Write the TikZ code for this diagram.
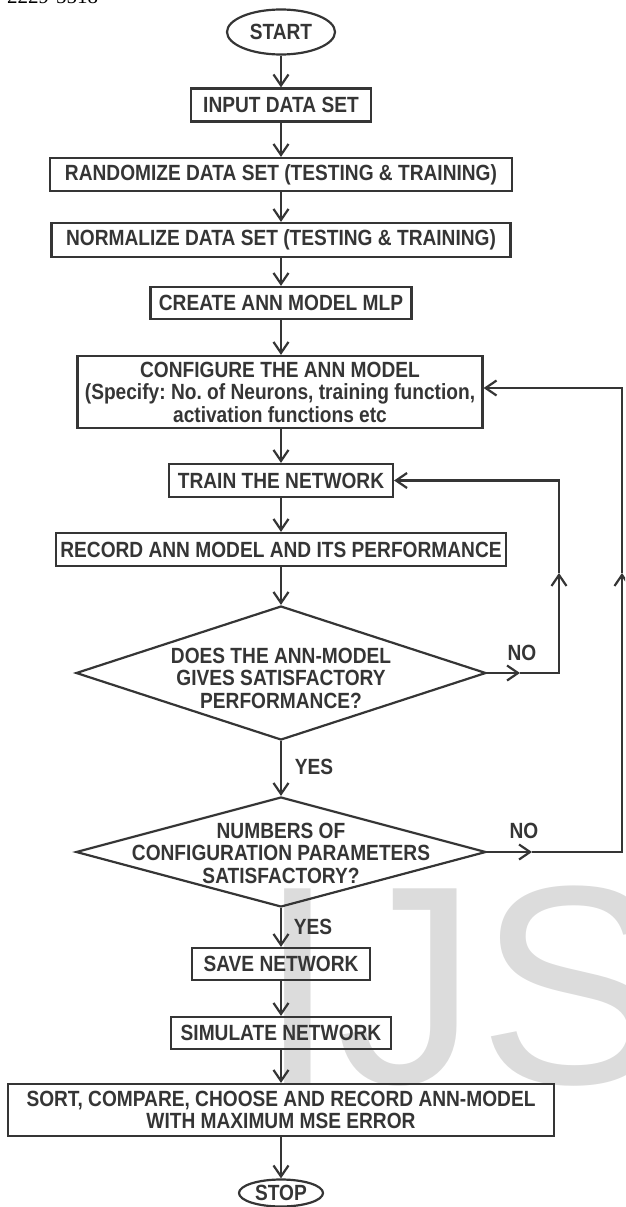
\documentclass[tikz,border=0pt]{standalone}
\usepackage{fontspec}
\setmainfont{Liberation Sans}
\newfontfamily\lblfont{Liberation Sans}[FakeStretch=0.87]
\newfontfamily\hdrfont{Liberation Serif}
\usetikzlibrary{arrows.meta,shapes.geometric}
\definecolor{ink}{HTML}{353535}
\definecolor{wm}{HTML}{DCDCDC}
\frenchspacing
\tikzset{
  ln/.style={draw=ink, line width=2.2pt},
  ar/.style={ln, -{Straight Barb[length=11pt,width=15pt]}},
  lbl/.style={font=\lblfont\fontsize{22}{22.5}\selectfont\bfseries, text=ink, inner sep=0pt, align=center},
  box/.style={lbl, draw=ink, line width=2.2pt, rectangle, minimum height=33pt},
  term/.style={lbl, draw=ink, line width=2.2pt, ellipse},
  dia/.style={draw=ink, line width=2.2pt, diamond, inner sep=0pt, minimum width=410pt}
}
\begin{document}
\begin{tikzpicture}[x=1pt,y=-1pt]
\useasboundingbox (0,0) rectangle (625,1207);
\clip (0,0) rectangle (625,1207);
% watermark and header fragment
\node[anchor=base west, inner sep=0pt, text=wm, font=\fontsize{283}{283}\selectfont] (wmark) at (258,1083) {IJS};
\node[anchor=base west, inner sep=0pt, font=\hdrfont\fontsize{21}{21}\selectfont] (hdr) at (7,3.5) {2229-5518};
% nodes
\node[term, minimum width=108pt, minimum height=45pt] (start) at (281,32) {START};
\node[box, minimum width=180pt] (input) at (281,105) {INPUT DATA SET};
\node[box, minimum width=462pt] (rand) at (281,174.5) {RANDOMIZE DATA SET (TESTING \& TRAINING)};
\node[box, minimum width=459pt, minimum height=34pt] (norm) at (281,240) {NORMALIZE DATA SET (TESTING \& TRAINING)};
\node[box, minimum width=261pt, minimum height=32pt] (create) at (281,303) {CREATE ANN MODEL MLP};
\node[box, minimum width=405pt, minimum height=72pt] (config) at (280,392) {CONFIGURE THE ANN MODEL\\(Specify: No. of Neurons, training function,\\activation functions etc};
\node[box, minimum width=224pt] (train) at (281,480.5) {TRAIN THE NETWORK};
\node[box, minimum width=450pt] (record) at (281,549.5) {RECORD ANN MODEL AND ITS PERFORMANCE};
\node[dia, minimum height=134pt] (d1) at (281,673) {};
\node[lbl] (d1t) at (281,678) {DOES THE ANN-MODEL\\GIVES SATISFACTORY\\PERFORMANCE?};
\node[dia, minimum height=110pt] (d2) at (281,852) {};
\node[lbl] (d2t) at (281,853) {NUMBERS OF\\CONFIGURATION PARAMETERS\\SATISFACTORY?};
\node[box, minimum width=178pt, minimum height=32pt] (save) at (281,964) {SAVE NETWORK};
\node[box, minimum width=220pt, minimum height=32pt] (sim) at (281,1033) {SIMULATE NETWORK};
\node[box, minimum width=546pt, minimum height=52pt] (sort) at (281,1110) {SORT, COMPARE, CHOOSE AND RECORD ANN-MODEL\\WITH MAXIMUM MSE ERROR};
\node[term, minimum width=84pt, minimum height=27pt] (stop) at (281,1193) {STOP};
% labels
\node[lbl] (no1) at (522,653) {NO};
\node[lbl] (no2) at (524,831) {NO};
\node[lbl] (yes1) at (314,767) {YES};
\node[lbl] (yes2) at (313,927) {YES};
% main flow
\draw[ar] (start.south) -- (input.north);
\draw[ar] (input.south) -- (rand.north);
\draw[ar] (rand.south) -- (norm.north);
\draw[ar] (norm.south) -- (create.north);
\draw[ar] (create.south) -- (create.south |- config.north);
\draw[ar] (create.south |- config.south) -- (train.north);
\draw[ar] (train.south) -- (record.north);
\draw[ar] (record.south) -- (d1.north);
\draw[ar] (d1.south) -- (d2.north);
\draw[ar] (d2.south) -- (save.north);
\draw[ar] (save.south) -- (sim.north);
\draw[ar] (sim.south) -- (sort.north);
\draw[ar] (sort.south) -- (stop.north);
% feedback loop 1
\coordinate (n1) at (520,673);
\coordinate (c1) at (559,673);
\coordinate (u1) at (559,573);
\draw[ar] (d1.east) -- (n1);
\draw[ar] (n1) -- (c1) -- (u1);
\draw[ar] (u1) |- (train.east);
% feedback loop 2
\coordinate (n2) at (532,852);
\coordinate (c2) at (622,852);
\coordinate (u2) at (622,573);
\draw[ar] (d2.east) -- (n2);
\draw[ar] (n2) -- (c2) -- (u2);
\draw[ar] (u2) |- ([yshift=4pt]config.east);
\end{tikzpicture}
\end{document}
